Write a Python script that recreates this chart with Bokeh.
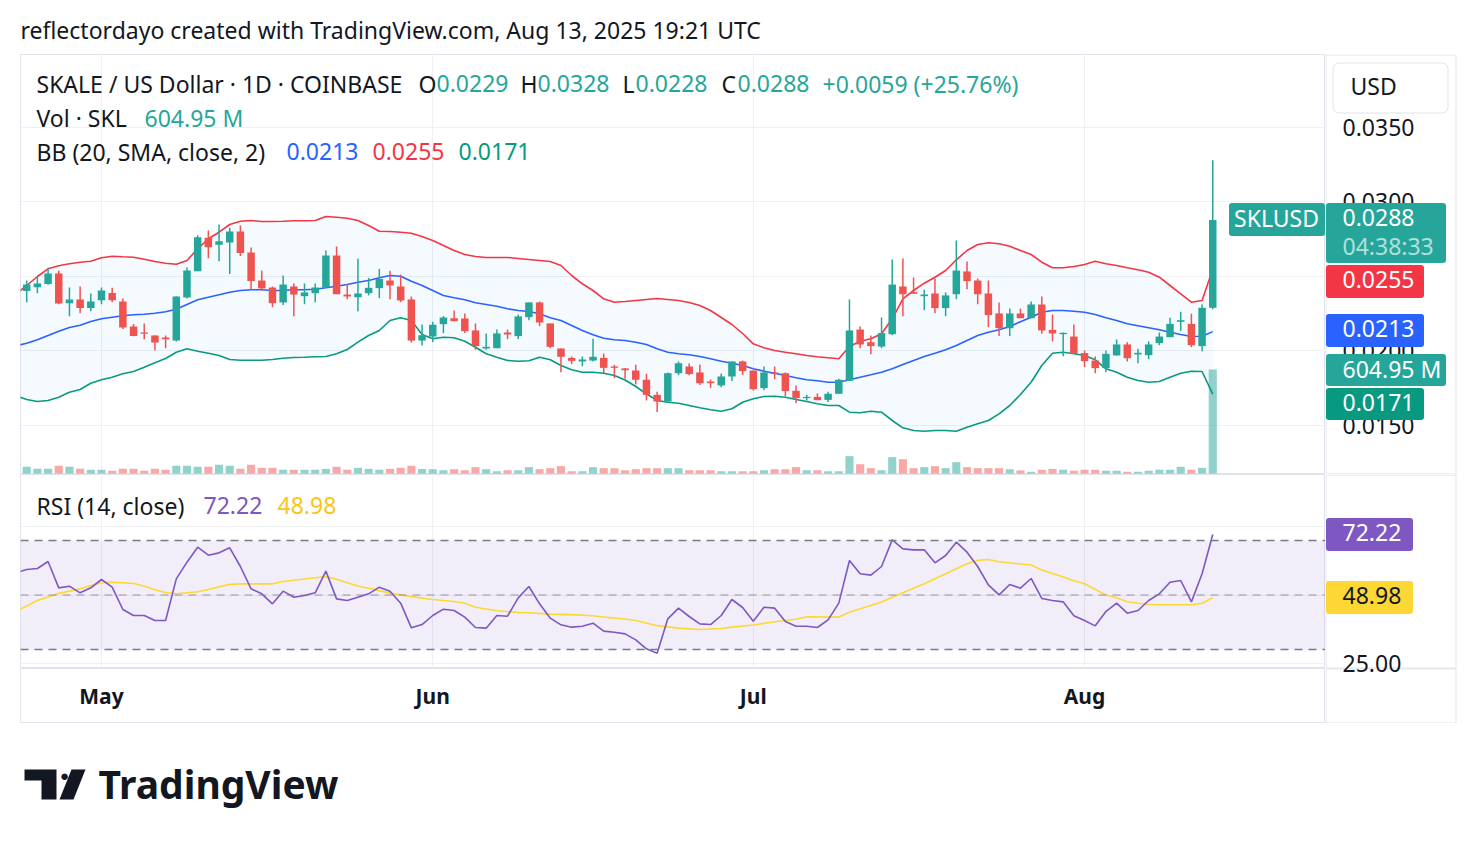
import numpy as np
import pandas as pd
from bokeh.plotting import figure
from bokeh.layouts import column, row
from bokeh.models import (Range1d, FixedTicker, NumeralTickFormatter, Label, LinearAxis,
                          BoxAnnotation, Span, PolyAnnotation)
from bokeh.embed import file_html
from bokeh.resources import INLINE

# ---------------- data ----------------
start_date = "2025-04-24"   # first visible daily candle

opens = [0.02402, 0.02428, 0.02449, 0.02520, 0.02321, 0.02346, 0.02288, 0.02341, 0.02390, 0.02332,
         0.02164, 0.02124, 0.02104, 0.02091, 0.02070, 0.02359, 0.02536, 0.02760, 0.02713, 0.02728,
         0.02802, 0.02661, 0.02473, 0.02426, 0.02326, 0.02433, 0.02368, 0.02388, 0.02426, 0.02641,
         0.02379, 0.02361, 0.02388, 0.02422, 0.02473, 0.02433, 0.02346, 0.02070, 0.02097, 0.02180,
         0.02220, 0.02218, 0.02138, 0.02017, 0.02019, 0.02124, 0.02100, 0.02227, 0.02326, 0.02185,
         0.02017, 0.01954, 0.01930, 0.01936, 0.01954, 0.01896, 0.01883, 0.01869, 0.01807, 0.01706,
         0.01661, 0.01851, 0.01896, 0.01856, 0.01795, 0.01769, 0.01829, 0.01930, 0.01869, 0.01751,
         0.01856, 0.01851, 0.01733, 0.01684, 0.01692, 0.01672, 0.01713, 0.01800, 0.02144, 0.02059,
         0.02030, 0.02113, 0.02433, 0.02395, 0.02368, 0.02386, 0.02288, 0.02381, 0.02534, 0.02473,
         0.02386, 0.02252, 0.02153, 0.02252, 0.02220, 0.02312, 0.02142, 0.02113, 0.02097, 0.01986,
         0.01936, 0.01885, 0.01970, 0.02044, 0.01977, 0.01972, 0.02053, 0.02093, 0.02196, 0.02182,
         0.02033, 0.0229]
highs = [0.02473, 0.02504, 0.02558, 0.02538, 0.02426, 0.02433, 0.02386, 0.02426, 0.02424, 0.02352,
         0.02182, 0.02185, 0.02106, 0.02104, 0.02368, 0.02560, 0.02777, 0.02809, 0.02849, 0.02827,
         0.02842, 0.02695, 0.02540, 0.02433, 0.02507, 0.02453, 0.02453, 0.02453, 0.02674, 0.02701,
         0.02451, 0.02619, 0.02491, 0.02551, 0.02538, 0.02513, 0.02366, 0.02178, 0.02196, 0.02234,
         0.02272, 0.02252, 0.02185, 0.02118, 0.02144, 0.02144, 0.02245, 0.02326, 0.02332, 0.02185,
         0.02017, 0.01963, 0.01963, 0.02082, 0.01983, 0.01907, 0.01886, 0.01907, 0.01847, 0.01726,
         0.01856, 0.01930, 0.01916, 0.01909, 0.01809, 0.01849, 0.01930, 0.01936, 0.01869, 0.01896,
         0.01896, 0.01856, 0.01769, 0.01706, 0.01715, 0.01726, 0.01813, 0.02346, 0.02164, 0.02104,
         0.02225, 0.02614, 0.02621, 0.02493, 0.02411, 0.02487, 0.02393, 0.02742, 0.02601, 0.02487,
         0.02473, 0.02326, 0.02285, 0.02285, 0.02332, 0.02366, 0.02245, 0.02124, 0.02178, 0.02003,
         0.01963, 0.02003, 0.02077, 0.02059, 0.02015, 0.02064, 0.02124, 0.02223, 0.02263, 0.02250,
         0.02312, 0.0328]
lows = [0.02328, 0.02388, 0.02445, 0.02314, 0.02234, 0.02254, 0.02267, 0.02314, 0.02328, 0.02147,
        0.02099, 0.02079, 0.02003, 0.02019, 0.02064, 0.02352, 0.02536, 0.02623, 0.02603, 0.02516,
        0.02637, 0.02411, 0.02406, 0.02294, 0.02308, 0.02234, 0.02314, 0.02328, 0.02426, 0.02381,
        0.02348, 0.02267, 0.02373, 0.02355, 0.02348, 0.02328, 0.02057, 0.02037, 0.02059, 0.02120,
        0.02200, 0.02120, 0.02008, 0.02008, 0.02019, 0.02080, 0.02080, 0.02207, 0.02167, 0.02019,
        0.01858, 0.01912, 0.01898, 0.01930, 0.01851, 0.01818, 0.01813, 0.01775, 0.01668, 0.01590,
        0.01661, 0.01838, 0.01838, 0.01771, 0.01753, 0.01757, 0.01798, 0.01838, 0.01735, 0.01737,
        0.01811, 0.01697, 0.01650, 0.01668, 0.01670, 0.01657, 0.01713, 0.01800, 0.02019, 0.01979,
        0.02019, 0.02106, 0.02234, 0.02384, 0.02274, 0.02254, 0.02234, 0.02348, 0.02415, 0.02314,
        0.02160, 0.02100, 0.02100, 0.02220, 0.02220, 0.02115, 0.02064, 0.01965, 0.01981, 0.01892,
        0.01851, 0.01858, 0.01970, 0.01930, 0.01918, 0.01945, 0.02039, 0.02093, 0.02135, 0.02026,
        0.01999, 0.0228]
closes = [0.02446, 0.02453, 0.02520, 0.02319, 0.02346, 0.02288, 0.02332, 0.02406, 0.02341, 0.02158,
          0.02100, 0.02115, 0.02057, 0.02079, 0.02366, 0.02540, 0.02764, 0.02697, 0.02737, 0.02802,
          0.02657, 0.02469, 0.02420, 0.02321, 0.02446, 0.02379, 0.02393, 0.02426, 0.02641, 0.02381,
          0.02366, 0.02386, 0.02424, 0.02484, 0.02440, 0.02339, 0.02070, 0.02106, 0.02176, 0.02225,
          0.02200, 0.02133, 0.02033, 0.02028, 0.02118, 0.02111, 0.02232, 0.02326, 0.02191, 0.02028,
          0.01961, 0.01934, 0.01943, 0.01961, 0.01887, 0.01887, 0.01871, 0.01807, 0.01706, 0.01661,
          0.01851, 0.01918, 0.01845, 0.01784, 0.01784, 0.01829, 0.01930, 0.01865, 0.01744, 0.01856,
          0.01845, 0.01731, 0.01684, 0.01692, 0.01670, 0.01713, 0.01807, 0.02138, 0.02044, 0.02033,
          0.02120, 0.02446, 0.02381, 0.02384, 0.02379, 0.02288, 0.02373, 0.02540, 0.02469, 0.02381,
          0.02241, 0.02153, 0.02252, 0.02220, 0.02312, 0.02138, 0.02118, 0.02122, 0.01981, 0.01932,
          0.01885, 0.01981, 0.02044, 0.01952, 0.01988, 0.02044, 0.02097, 0.02182, 0.02207, 0.02039,
          0.02290, 0.0288]
volume_m = [39, 27, 27, 45, 39, 27, 22, 22, 16, 27,
            27, 16, 27, 22, 45, 45, 39, 39, 51, 45,
            27, 51, 33, 33, 22, 22, 22, 22, 27, 39,
            22, 33, 27, 22, 27, 33, 45, 26, 25, 19,
            25, 19, 37, 25, 13, 19, 19, 37, 25, 31,
            43, 13, 13, 37, 31, 31, 19, 25, 31, 31,
            31, 31, 19, 19, 19, 13, 13, 13, 13, 19,
            25, 25, 37, 19, 19, 13, 13, 101, 54, 31,
            19, 95, 83, 31, 37, 43, 31, 66, 37, 31,
            31, 31, 25, 18, 10, 22, 27, 22, 16, 22,
            22, 16, 16, 10, 10, 16, 22, 22, 39, 22,
            33, 604.95]

# Bollinger Bands (20, SMA, close, 2), starting the day before the first candle
bb_upper = [0.023839, 0.024396, 0.025000, 0.025517, 0.025718, 0.025852, 0.025960, 0.026027, 0.026255, 0.026363,
            0.026322, 0.026295, 0.026161, 0.026007, 0.025893, 0.025826, 0.026074, 0.026859, 0.027531, 0.027973,
            0.028490, 0.028711, 0.028758, 0.028691, 0.028691, 0.028711, 0.028738, 0.028738, 0.028758, 0.029027,
            0.028980, 0.028913, 0.028758, 0.028423, 0.028040, 0.028020, 0.027973, 0.027906, 0.027685, 0.027416,
            0.027081, 0.026745, 0.026477, 0.026342, 0.026275, 0.026275, 0.026275, 0.026208, 0.026141, 0.026074,
            0.026007, 0.025738, 0.025067, 0.024510, 0.024060, 0.023503, 0.023275, 0.023322, 0.023389, 0.023456,
            0.023523, 0.023456, 0.023389, 0.023255, 0.023054, 0.022718, 0.022248, 0.021779, 0.021175, 0.020483,
            0.020215, 0.020034, 0.019920, 0.019812, 0.019698, 0.019611, 0.019544, 0.019477, 0.020302, 0.020658,
            0.020819, 0.021154, 0.022161, 0.023503, 0.024060, 0.024550, 0.024953, 0.025403, 0.026121, 0.026745,
            0.027148, 0.027262, 0.027195, 0.027034, 0.026745, 0.026477, 0.025960, 0.025584, 0.025584, 0.025671,
            0.025806, 0.026027, 0.025852, 0.025738, 0.025584, 0.025450, 0.025289, 0.024953, 0.024396, 0.023839,
            0.023275, 0.023389, 0.0255]
bb_basis = [0.020349, 0.020524, 0.020752, 0.021040, 0.021329, 0.021577, 0.021732, 0.021980, 0.022161, 0.022269,
            0.022362, 0.022429, 0.022470, 0.022537, 0.022631, 0.022805, 0.023121, 0.023436, 0.023611, 0.023772,
            0.023946, 0.024060, 0.024107, 0.024107, 0.024060, 0.024060, 0.024107, 0.024107, 0.024148, 0.024242,
            0.024349, 0.024463, 0.024618, 0.024732, 0.024913, 0.025067, 0.025020, 0.024685, 0.024396, 0.024060,
            0.023725, 0.023570, 0.023436, 0.023235, 0.023121, 0.023007, 0.022832, 0.022718, 0.022651, 0.022497,
            0.022228, 0.022047, 0.021711, 0.021376, 0.021087, 0.020859, 0.020752, 0.020705, 0.020591, 0.020437,
            0.020148, 0.019920, 0.019812, 0.019745, 0.019631, 0.019477, 0.019316, 0.019182, 0.019027, 0.018806,
            0.018645, 0.018510, 0.018356, 0.018201, 0.018067, 0.018000, 0.017906, 0.017906, 0.018067, 0.018242,
            0.018403, 0.018577, 0.018806, 0.019094, 0.019362, 0.019631, 0.019852, 0.020080, 0.020369, 0.020705,
            0.021040, 0.021262, 0.021423, 0.021644, 0.021967, 0.022269, 0.022604, 0.022718, 0.022718, 0.022671,
            0.022604, 0.022450, 0.022228, 0.022047, 0.021826, 0.021691, 0.021557, 0.021423, 0.021262, 0.021108,
            0.020973, 0.020993, 0.0213]
bb_lower = [0.016993, 0.016745, 0.016611, 0.016678, 0.016899, 0.017235, 0.017416, 0.017839, 0.018067, 0.018242,
            0.018470, 0.018624, 0.018913, 0.019208, 0.019497, 0.019920, 0.020148, 0.019986, 0.019852, 0.019698,
            0.019430, 0.019383, 0.019383, 0.019383, 0.019430, 0.019517, 0.019564, 0.019584, 0.019611, 0.019631,
            0.019812, 0.020101, 0.020591, 0.021040, 0.021376, 0.022047, 0.022228, 0.022047, 0.021108, 0.020819,
            0.020926, 0.020886, 0.020658, 0.020255, 0.019812, 0.019584, 0.019362, 0.019316, 0.019342, 0.019584,
            0.019410, 0.019027, 0.018738, 0.018577, 0.018577, 0.018510, 0.018356, 0.018054, 0.017618, 0.017127,
            0.016678, 0.016564, 0.016497, 0.016342, 0.016188, 0.016054, 0.015960, 0.016121, 0.016564, 0.016792,
            0.016947, 0.016967, 0.016899, 0.016745, 0.016611, 0.016456, 0.016342, 0.016342, 0.015893, 0.015853,
            0.015960, 0.015893, 0.015336, 0.014846, 0.014664, 0.014617, 0.014664, 0.014664, 0.014617, 0.014886,
            0.015114, 0.015336, 0.015785, 0.016342, 0.017080, 0.017906, 0.019027, 0.019852, 0.019920, 0.019812,
            0.019698, 0.019410, 0.018806, 0.018577, 0.018242, 0.018021, 0.017906, 0.017953, 0.018242, 0.018510,
            0.018645, 0.018624, 0.0171]

# RSI (14, close), starting the day before the first candle
rsi = [58.2, 59.36, 59.73, 62.29, 52.63, 53.24, 50.80, 52.63, 55.69, 52.87,
       44.68, 42.48, 42.48, 40.64, 40.64, 55.93, 62.05, 67.55, 64.62, 65.47,
       67.31, 60.46, 52.26, 50.43, 46.76, 51.41, 49.20, 49.82, 50.80, 58.75,
       48.59, 47.98, 49.20, 50.43, 52.87, 51.41, 47.00, 37.95, 39.17, 42.48,
       44.80, 44.31, 41.87, 38.07, 37.83, 42.48, 42.23, 48.96, 53.12, 46.76,
       41.50, 39.05, 38.20, 38.56, 39.66, 36.73, 36.36, 35.75, 33.55, 30.24,
       28.65, 41.25, 45.17, 42.11, 39.42, 39.17, 42.48, 48.35, 45.41, 40.40,
       45.53, 45.17, 40.27, 38.56, 38.56, 38.07, 40.89, 47.00, 62.66, 57.77,
       57.28, 60.46, 70.24, 66.94, 66.57, 66.57, 61.80, 64.50, 69.39, 65.72,
       60.46, 53.73, 50.06, 53.85, 52.51, 56.06, 48.72, 47.98, 47.49, 42.35,
       40.64, 38.68, 43.94, 47.00, 43.33, 44.31, 47.98, 50.43, 54.71, 55.32,
       47.49, 57.77, 72.22]

# RSI-based moving average, sampled days (day index from the first candle)
rsi_ma_days = [-1, 1, 3, 5, 6, 7, 8, 10, 11, 12, 13, 14, 16, 17, 19, 20, 22, 23, 24, 26, 27, 28, 29, 30, 31,
               33, 34, 36, 38, 40, 41, 42, 44, 46, 47, 49, 51, 53, 54, 55, 56, 57, 59, 61, 63, 65, 66, 68,
               70, 72, 73, 76, 77, 80, 82, 84, 87, 88, 89, 90, 91, 94, 95, 97, 98, 99, 101, 102, 103, 105,
               106, 109, 110, 111]
rsi_ma = [44.0, 48.0, 50.6, 52.26, 53.49, 54.47, 54.71, 54.2, 53.2, 51.9, 50.9, 50.45, 51.2, 52.0, 53.9,
          54.1, 54.1, 54.1, 54.95, 55.9, 56.35, 56.75, 55.8, 54.5, 53.3, 51.6, 50.7, 49.4, 48.35, 47.6,
          47.0, 45.5, 44.2, 43.6, 43.5, 43.0, 42.8, 42.4, 41.9, 41.5, 41.2, 40.64, 38.75, 37.85, 37.35,
          37.7, 38.2, 39.0, 40.2, 41.1, 42.0, 41.9, 43.7, 47.4, 50.8, 54.1, 59.6, 61.5, 62.7, 63.0, 62.2,
          61.0, 59.2, 56.6, 55.2, 54.1, 50.0, 49.0, 47.5, 46.5, 46.4, 46.4, 47.0, 48.98]

price_ticks = [0.0150, 0.0200, 0.0250, 0.0300, 0.0350]
rsi_ticks = [25, 50, 75]

# ---------------- derived helpers ----------------
n = len(closes)
days = np.arange(n)
ind_days = np.arange(-1, n)
dates = pd.date_range(start_date, periods=n, freq="D")
month_idx = [int(i) for i in np.where(dates.day == 1)[0]]
month_lbl = {i: dates[i].strftime("%b") for i in month_idx}

o = np.array(opens); c = np.array(closes); h = np.array(highs); l = np.array(lows)
up = c >= o
UP, DOWN = "#26a69a", "#ef5350"
cols = [UP if u else DOWN for u in up]
vcols = ["rgba(38,166,154,0.5)" if u else "rgba(239,83,80,0.5)" for u in up]

FONT = "Noto Sans"
DARK = "#131722"
GRID = "#eef0f3"
BORDER = "#e0e3eb"
FS = "23px"
TEXT_DY = 2   # small upward nudge of label texts

X_RANGE = Range1d(-0.58, 121.55)
PRICE_RANGE = Range1d(0.0117114, 0.0398993)
RSI_TOP, RSI_PX = 94.22, 2.72508          # RSI value at pane top, pixels per RSI point
RSI_RANGE = Range1d(RSI_TOP - 194 / RSI_PX, RSI_TOP)
RSI_SCALE_RANGE = Range1d(RSI_TOP - 249 / RSI_PX, RSI_TOP)   # RSI scale column incl. time-axis strip

ORIGIN = {}   # figure id -> canvas position (frame left, frame bottom)


def mkfig(w, h, xr, yr, x0, ybot, ml=0):
    f = figure(width=w, height=h, x_range=xr, y_range=yr, x_axis_location=None, y_axis_location=None,
               toolbar_location=None, output_backend="svg", min_border_left=ml, min_border_right=0,
               min_border_top=0, min_border_bottom=0, background_fill_color="white",
               border_fill_color="white")
    f.outline_line_color = None
    f.grid.visible = False
    ORIGIN[f.id] = (x0, ybot)
    return f


def txt(fig, xc, yc, text, color=DARK, size=FS, style="normal", align="left"):
    x0, yb = ORIGIN[fig.id]
    fig.add_layout(Label(x=xc - x0, y=yb - yc + TEXT_DY, x_units="screen", y_units="screen", text=text,
                         text_color=color, text_font=FONT, text_font_size=size,
                         text_font_style=style, text_align=align, text_baseline="middle"))


def box(fig, xa, ya, xb, yb_, fill=None, line=None, radius=0, level="annotation"):
    x0, yb = ORIGIN[fig.id]
    fig.add_layout(BoxAnnotation(left=xa - x0 + 0.5, right=xb - x0 - 0.5, top=yb - ya - 0.5, bottom=yb - yb_ + 0.5,
                                 left_units="screen", right_units="screen",
                                 top_units="screen", bottom_units="screen",
                                 fill_color=fill if fill else "white", fill_alpha=1.0 if fill else 0.0,
                                 line_color=line if line else "white", line_alpha=1.0 if line else 0.0,
                                 line_width=1, border_radius=radius, level=level))


def price_axis(fig, ticks, fmt):
    ax = LinearAxis(fixed_location=0, ticker=FixedTicker(ticks=ticks), formatter=NumeralTickFormatter(format=fmt),
                    axis_line_color=None, major_tick_line_color=None, minor_tick_line_color=None,
                    major_tick_out=0, major_tick_in=0, major_label_standoff=17,
                    major_label_text_font=FONT, major_label_text_font_size=FS, major_label_text_color=DARK)
    fig.add_layout(ax, "right")


# ---------------- header ----------------
hdr = mkfig(1476, 54, Range1d(0, 1476), Range1d(0, 54), 0, 54)
txt(hdr, 20, 31, "reflectordayo created with TradingView.com, Aug 13, 2025 19:21 UTC")

# ---------------- main price pane ----------------
p1 = mkfig(1325, 420, X_RANGE, PRICE_RANGE, 20, 474, ml=20)
p1.outline_line_color = BORDER
p1.xgrid.ticker = FixedTicker(ticks=month_idx)
p1.ygrid.ticker = FixedTicker(ticks=price_ticks)
p1.grid.visible = True
p1.grid.grid_line_color = GRID

p1.extra_y_ranges = {"vol": Range1d(-5.8, 2437)}
p1.vbar(x=days, width=0.76, top=volume_m, bottom=0, fill_color=vcols, line_color=None, y_range_name="vol")
p1.varea(x=ind_days, y1=bb_lower, y2=bb_upper, fill_color="#2196f3", fill_alpha=0.05)
p1.line(ind_days, bb_upper, line_color="#f23645", line_width=1.6)
p1.line(ind_days, bb_basis, line_color="#2962ff", line_width=1.6)
p1.line(ind_days, bb_lower, line_color="#089981", line_width=1.6)
p1.segment(x0=days, y0=h, x1=days, y1=l, line_color=cols, line_width=1.5)
p1.vbar(x=days, width=0.7, top=np.maximum(o, c), bottom=np.minimum(o, c), fill_color=cols, line_color=None)

txt(p1, 36, 85, "SKALE / US Dollar · 1D · COINBASE")
txt(p1, 418, 85, "O"); txt(p1, 436, 85, f"{opens[-1]:.4f}", UP)
txt(p1, 520, 85, "H"); txt(p1, 537, 85, f"{highs[-1]:.4f}", UP)
txt(p1, 622, 85, "L"); txt(p1, 635, 85, f"{lows[-1]:.4f}", UP)
txt(p1, 721, 85, "C"); txt(p1, 737, 85, f"{closes[-1]:.4f}", UP)
chg = closes[-1] - closes[-2]
txt(p1, 822, 85, f"+{chg:.4f} (+{chg / closes[-2] * 100:.2f}%)", UP)
txt(p1, 36, 119, "Vol · SKL")
txt(p1, 144, 119, f"{volume_m[-1]:.2f} M", UP)
txt(p1, 36, 153, "BB (20, SMA, close, 2)")
txt(p1, 286, 153, f"{bb_basis[-1]:.4f}", "#2962ff")
txt(p1, 372, 153, f"{bb_upper[-1]:.4f}", "#f23645")
txt(p1, 458, 153, f"{bb_lower[-1]:.4f}", "#089981")
box(p1, 1228, 202, 1325, 236, fill=UP, radius=3)
txt(p1, 1276, 219, "SKLUSD", "white", align="center")

# price scale
p1r = mkfig(151, 420, Range1d(0, 151), PRICE_RANGE, 1325, 474)
price_axis(p1r, price_ticks, "0.0000")
box(p1r, 1325, 54, 1456, 474, line=BORDER)
box(p1r, 1332, 62, 1448, 113, fill="white", line=BORDER, radius=6)
txt(p1r, 1350, 87, "USD")
box(p1r, 1325, 202, 1446, 263, fill=UP, radius=3)
txt(p1r, 1342, 219, f"{closes[-1]:.4f}", "white")
txt(p1r, 1342, 247, "04:38:33", "#b2e0dc")
box(p1r, 1325, 264, 1424, 298, fill="#f23645", radius=3)
txt(p1r, 1342, 281, f"{bb_upper[-1]:.4f}", "white")
box(p1r, 1325, 313, 1424, 347, fill="#2962ff", radius=3)
txt(p1r, 1342, 330, f"{bb_basis[-1]:.4f}", "white")
box(p1r, 1325, 353, 1446, 386, fill=UP, radius=3)
txt(p1r, 1342, 370, f"{volume_m[-1]:.2f} M", "white")
box(p1r, 1325, 387, 1424, 420, fill="#089981", radius=3)
txt(p1r, 1342, 404, f"{bb_lower[-1]:.4f}", "white")

# ---------------- RSI pane ----------------
p2 = mkfig(1325, 194, X_RANGE, RSI_RANGE, 20, 668, ml=20)
p2.outline_line_color = BORDER
p2.xgrid.ticker = FixedTicker(ticks=month_idx)
p2.ygrid.ticker = FixedTicker(ticks=rsi_ticks)
p2.grid.visible = True
p2.grid.grid_line_color = GRID
p2.add_layout(BoxAnnotation(bottom=30, top=70, fill_color="#7e57c2", fill_alpha=0.1, line_color=None, level="underlay"))
p2.add_layout(Span(location=70, dimension="width", line_color="#787b86", line_dash="8 6", line_width=1.5))
p2.add_layout(Span(location=50, dimension="width", line_color="#787b86", line_alpha=0.5, line_dash="8 6", line_width=1.5))
p2.add_layout(Span(location=30, dimension="width", line_color="#787b86", line_dash="8 6", line_width=1.5))
p2.line(rsi_ma_days, rsi_ma, line_color="#fdd835", line_width=1.6)
p2.line(ind_days, rsi, line_color="#7e57c2", line_width=1.6)
txt(p2, 36, 507, "RSI (14, close)")
txt(p2, 203, 507, f"{rsi[-1]:.2f}", "#7e57c2")
txt(p2, 277, 507, f"{rsi_ma[-1]:.2f}", "#f9c513")

# RSI scale column (extends over the time-axis strip so the 25.00 label is whole)
p2r = mkfig(151, 249, Range1d(0, 151), RSI_SCALE_RANGE, 1325, 723)
box(p2r, 1325, 474, 1456, 668, line=BORDER, level="underlay")
box(p2r, 1325, 668, 1456, 723, line=BORDER, level="underlay")
price_axis(p2r, rsi_ticks, "0.00")
box(p2r, 1325, 517, 1413, 551, fill="#7e57c2", radius=3)
txt(p2r, 1342, 534, f"{rsi[-1]:.2f}", "white")
box(p2r, 1325, 580, 1413, 614, fill="#fdd835", radius=3)
txt(p2r, 1342, 597, f"{rsi_ma[-1]:.2f}", DARK)

# ---------------- time scale ----------------
p3 = mkfig(1325, 55, X_RANGE, Range1d(0, 1), 20, 723, ml=20)
p3.outline_line_color = BORDER
xa = LinearAxis(fixed_location=1, ticker=FixedTicker(ticks=month_idx), major_label_overrides=month_lbl,
                axis_line_color=None, major_tick_line_color=None, minor_tick_line_color=None,
                major_tick_out=0, major_tick_in=0, major_label_standoff=13,
                major_label_text_font=FONT, major_label_text_font_size="21px",
                major_label_text_font_style="bold", major_label_text_color=DARK)
p3.add_layout(xa, "below")

left_col = column(p2, p3)

# ---------------- footer (TradingView mark) ----------------
ftr = mkfig(1476, 121, Range1d(0, 1476), Range1d(0, 121), 0, 844)
ftr.add_layout(PolyAnnotation(xs=[24, 56, 56, 41, 41, 24], ys=[844 - 769, 844 - 769, 844 - 799, 844 - 799, 844 - 780, 844 - 780],
                              xs_units="screen", ys_units="screen", fill_color=DARK, fill_alpha=1, line_color=None))
ftr.add_layout(PolyAnnotation(xs=[71, 85, 73, 59], ys=[844 - 769, 844 - 769, 844 - 799, 844 - 799],
                              xs_units="screen", ys_units="screen", fill_color=DARK, fill_alpha=1, line_color=None))
txt(ftr, 64, 776, "●", DARK, size="15px", align="center")
txt(ftr, 98, 785, "TradingView", DARK, size="39px", style="bold")

layout = column(hdr, row(p1, p1r), row(left_col, p2r), ftr)
open("out.html", "w").write(file_html(layout, INLINE))
